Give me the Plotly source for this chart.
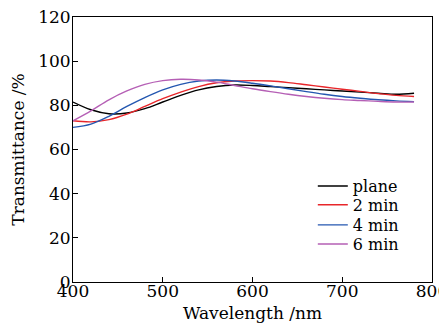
import plotly.graph_objects as go

wavelength = [400, 420, 440, 460, 480, 500, 520, 540, 560, 580, 600, 620, 640, 660, 680, 700, 720, 740, 760, 780]
plane = [81.5, 78.0, 76.2, 76.5, 78.5, 81.5, 84.5, 87.0, 88.5, 89.2, 89.0, 88.5, 88.0, 87.5, 87.0, 86.5, 86.0, 85.5, 85.0, 85.5]
min2 = [73.0, 72.5, 73.5, 76.0, 79.5, 83.0, 86.0, 88.5, 90.2, 91.0, 91.2, 91.0, 90.3, 89.3, 88.3, 87.3, 86.3, 85.3, 84.5, 84.0]
min4 = [70.0, 71.5, 75.0, 79.5, 83.5, 87.0, 89.5, 91.0, 91.5, 91.0, 90.0, 88.8, 87.5, 86.2, 85.0, 84.0, 83.2, 82.5, 82.0, 81.7]
min6 = [73.0, 77.5, 82.5, 86.5, 89.5, 91.2, 91.8, 91.5, 90.5, 89.0, 87.5, 86.2, 85.0, 84.0, 83.2, 82.6, 82.2, 81.8, 81.5, 81.5]

names = ["plane", "2 min", "4 min", "6 min"]
colors = ["#000000", "#e8262a", "#2457b0", "#b55fb5"]
legend_ids = ["legend", "legend2", "legend3", "legend4"]
legend_rows = [0.362, 0.291, 0.215, 0.143]

FONT = "DejaVu Serif"
fig = go.Figure()
for name, ys, c, lid in zip(names, [plane, min2, min4, min6], colors, legend_ids):
    fig.add_trace(go.Scatter(x=wavelength, y=ys, mode="lines", name=name, legend=lid,
                             line=dict(color=c, width=1.4, shape="spline")))

axis_common = dict(showline=True, linecolor="black", linewidth=1, mirror=True,
                   ticks="inside", ticklen=5, tickcolor="black", showgrid=False,
                   zeroline=False, automargin=False, ticklabeloverflow="allow",
                   tickfont=dict(family=FONT, size=17, color="black"))
fig.update_xaxes(range=[400, 800], dtick=100, ticklabelstandoff=-6,
                 title=dict(text="Wavelength /nm", font=dict(family=FONT, size=17, color="black"), standoff=6),
                 **axis_common)
fig.update_yaxes(range=[0, 120], dtick=20, ticklabelstandoff=-2,
                 title=dict(text="Transmittance /%", font=dict(family=FONT, size=17, color="black"), standoff=10),
                 **axis_common)

legend_style = dict(x=0.668, xanchor="left", yanchor="middle",
                    bgcolor="rgba(0,0,0,0)", borderwidth=0,
                    font=dict(family=FONT, size=16, color="black"), itemwidth=30)

# page body has an 8px default margin, so the figure is sized to fit the 447x325 window
fig.update_layout(width=439, height=317, margin=dict(l=65, r=15, t=9, b=43),
                  paper_bgcolor="white", plot_bgcolor="white",
                  font=dict(family=FONT, color="black"),
                  showlegend=True,
                  **{lid: dict(y=yr, **legend_style) for lid, yr in zip(legend_ids, legend_rows)})
fig.write_html("out.html")
